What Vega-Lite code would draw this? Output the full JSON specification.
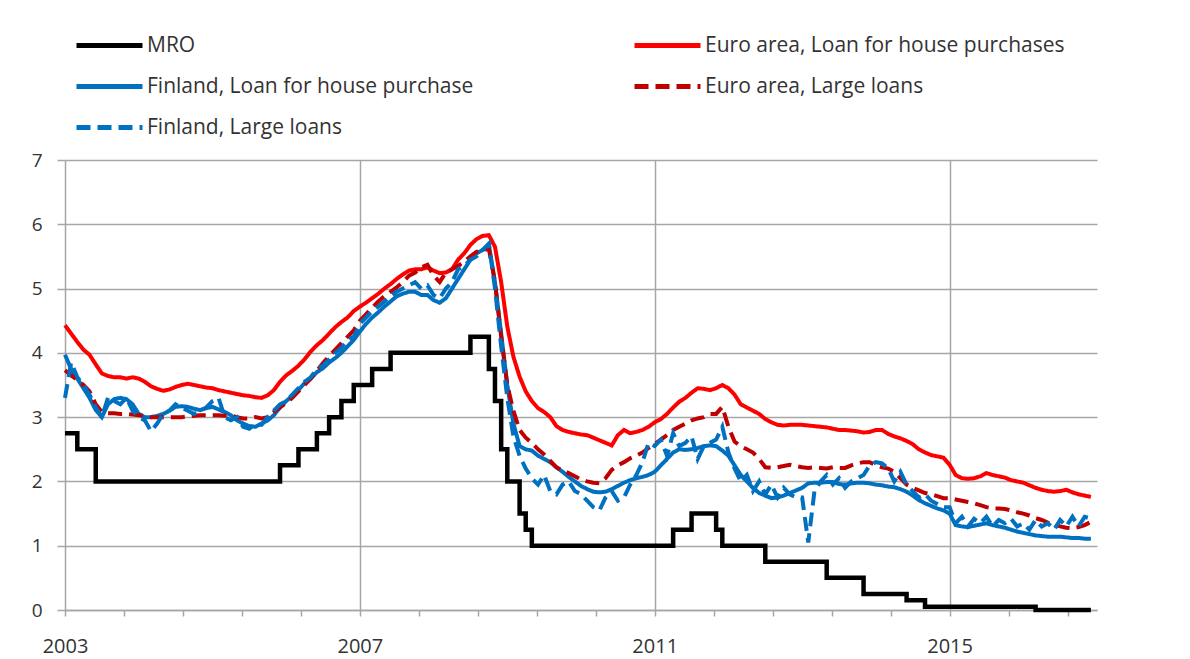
{
"$schema": "https://vega.github.io/schema/vega-lite/v6.json",
"width": 1032, "height": 450,
"autosize": "none",
"padding": {"left": 65, "top": 160, "right": 93, "bottom": 49},
"background": "white",
"config": {"view": {"stroke": null}, "font": "Open Sans"},
"data": {"values": [
{"t":2003.000,"m":2.75,"ea":4.43,"fi":3.97,"eal":3.73,"fil":3.3},
{"t":2003.083,"m":2.75,"ea":4.3,"fi":3.75,"eal":3.65,"fil":3.85},
{"t":2003.167,"m":2.5,"ea":4.17,"fi":3.6,"eal":3.58,"fil":3.62},
{"t":2003.250,"m":2.5,"ea":4.05,"fi":3.45,"eal":3.5,"fil":3.5},
{"t":2003.333,"m":2.5,"ea":3.97,"fi":3.3,"eal":3.4,"fil":3.35},
{"t":2003.417,"m":2.0,"ea":3.82,"fi":3.11,"eal":3.2,"fil":3.15},
{"t":2003.500,"m":2.0,"ea":3.68,"fi":3.0,"eal":3.08,"fil":3.0},
{"t":2003.583,"m":2.0,"ea":3.64,"fi":3.2,"eal":3.06,"fil":3.3},
{"t":2003.667,"m":2.0,"ea":3.62,"fi":3.28,"eal":3.06,"fil":3.25},
{"t":2003.750,"m":2.0,"ea":3.62,"fi":3.3,"eal":3.05,"fil":3.2},
{"t":2003.833,"m":2.0,"ea":3.6,"fi":3.28,"eal":3.05,"fil":3.3},
{"t":2003.917,"m":2.0,"ea":3.62,"fi":3.2,"eal":3.04,"fil":3.1},
{"t":2004.000,"m":2.0,"ea":3.6,"fi":3.05,"eal":3.03,"fil":3.0},
{"t":2004.083,"m":2.0,"ea":3.55,"fi":3.0,"eal":3.02,"fil":2.95},
{"t":2004.167,"m":2.0,"ea":3.48,"fi":3.0,"eal":3.0,"fil":2.78},
{"t":2004.250,"m":2.0,"ea":3.44,"fi":3.02,"eal":3.0,"fil":2.9},
{"t":2004.333,"m":2.0,"ea":3.41,"fi":3.05,"eal":3.0,"fil":3.05},
{"t":2004.417,"m":2.0,"ea":3.43,"fi":3.1,"eal":3.0,"fil":3.1},
{"t":2004.500,"m":2.0,"ea":3.47,"fi":3.16,"eal":3.0,"fil":3.2},
{"t":2004.583,"m":2.0,"ea":3.5,"fi":3.17,"eal":3.0,"fil":3.15},
{"t":2004.667,"m":2.0,"ea":3.52,"fi":3.16,"eal":3.01,"fil":3.1},
{"t":2004.750,"m":2.0,"ea":3.5,"fi":3.13,"eal":3.02,"fil":3.05},
{"t":2004.833,"m":2.0,"ea":3.48,"fi":3.11,"eal":3.03,"fil":3.1},
{"t":2004.917,"m":2.0,"ea":3.46,"fi":3.14,"eal":3.03,"fil":3.15},
{"t":2005.000,"m":2.0,"ea":3.45,"fi":3.16,"eal":3.03,"fil":3.25},
{"t":2005.083,"m":2.0,"ea":3.42,"fi":3.12,"eal":3.03,"fil":3.3},
{"t":2005.167,"m":2.0,"ea":3.4,"fi":3.08,"eal":3.02,"fil":3.0},
{"t":2005.250,"m":2.0,"ea":3.38,"fi":3.03,"eal":3.03,"fil":2.95},
{"t":2005.333,"m":2.0,"ea":3.36,"fi":2.95,"eal":3.0,"fil":3.0},
{"t":2005.417,"m":2.0,"ea":3.34,"fi":2.9,"eal":2.98,"fil":2.85},
{"t":2005.500,"m":2.0,"ea":3.33,"fi":2.86,"eal":2.98,"fil":2.82},
{"t":2005.583,"m":2.0,"ea":3.31,"fi":2.85,"eal":3.0,"fil":2.9},
{"t":2005.667,"m":2.0,"ea":3.3,"fi":2.9,"eal":2.98,"fil":2.88},
{"t":2005.750,"m":2.0,"ea":3.34,"fi":2.95,"eal":3.0,"fil":3.0},
{"t":2005.833,"m":2.0,"ea":3.42,"fi":3.03,"eal":3.08,"fil":3.1},
{"t":2005.917,"m":2.25,"ea":3.55,"fi":3.15,"eal":3.15,"fil":3.2},
{"t":2006.000,"m":2.25,"ea":3.65,"fi":3.25,"eal":3.22,"fil":3.25},
{"t":2006.083,"m":2.25,"ea":3.72,"fi":3.33,"eal":3.3,"fil":3.35},
{"t":2006.167,"m":2.5,"ea":3.8,"fi":3.42,"eal":3.4,"fil":3.45},
{"t":2006.250,"m":2.5,"ea":3.9,"fi":3.53,"eal":3.5,"fil":3.55},
{"t":2006.333,"m":2.5,"ea":4.02,"fi":3.6,"eal":3.6,"fil":3.62},
{"t":2006.417,"m":2.75,"ea":4.12,"fi":3.7,"eal":3.72,"fil":3.75},
{"t":2006.500,"m":2.75,"ea":4.2,"fi":3.76,"eal":3.84,"fil":3.8},
{"t":2006.583,"m":3.0,"ea":4.3,"fi":3.85,"eal":3.95,"fil":3.9},
{"t":2006.667,"m":3.0,"ea":4.4,"fi":3.92,"eal":4.05,"fil":4.0},
{"t":2006.750,"m":3.25,"ea":4.48,"fi":4.0,"eal":4.15,"fil":4.08},
{"t":2006.833,"m":3.25,"ea":4.55,"fi":4.1,"eal":4.25,"fil":4.2},
{"t":2006.917,"m":3.5,"ea":4.65,"fi":4.2,"eal":4.35,"fil":4.25},
{"t":2007.000,"m":3.5,"ea":4.72,"fi":4.33,"eal":4.5,"fil":4.45},
{"t":2007.083,"m":3.5,"ea":4.78,"fi":4.45,"eal":4.6,"fil":4.55},
{"t":2007.167,"m":3.75,"ea":4.85,"fi":4.55,"eal":4.7,"fil":4.65},
{"t":2007.250,"m":3.75,"ea":4.92,"fi":4.63,"eal":4.8,"fil":4.72},
{"t":2007.333,"m":3.75,"ea":5.0,"fi":4.72,"eal":4.88,"fil":4.8},
{"t":2007.417,"m":4.0,"ea":5.07,"fi":4.8,"eal":4.95,"fil":4.88},
{"t":2007.500,"m":4.0,"ea":5.15,"fi":4.88,"eal":5.02,"fil":4.95},
{"t":2007.583,"m":4.0,"ea":5.22,"fi":4.92,"eal":5.1,"fil":5.0},
{"t":2007.667,"m":4.0,"ea":5.28,"fi":4.95,"eal":5.2,"fil":5.05},
{"t":2007.750,"m":4.0,"ea":5.3,"fi":4.95,"eal":5.25,"fil":5.1},
{"t":2007.833,"m":4.0,"ea":5.3,"fi":4.9,"eal":5.33,"fil":5.0},
{"t":2007.917,"m":4.0,"ea":5.33,"fi":4.9,"eal":5.37,"fil":5.05},
{"t":2008.000,"m":4.0,"ea":5.28,"fi":4.82,"eal":5.2,"fil":4.9},
{"t":2008.083,"m":4.0,"ea":5.24,"fi":4.78,"eal":5.1,"fil":4.85},
{"t":2008.167,"m":4.0,"ea":5.25,"fi":4.85,"eal":5.25,"fil":5.0},
{"t":2008.250,"m":4.0,"ea":5.3,"fi":5.0,"eal":5.3,"fil":5.1},
{"t":2008.333,"m":4.0,"ea":5.45,"fi":5.15,"eal":5.35,"fil":5.3},
{"t":2008.417,"m":4.0,"ea":5.55,"fi":5.3,"eal":5.42,"fil":5.35},
{"t":2008.500,"m":4.25,"ea":5.68,"fi":5.45,"eal":5.5,"fil":5.45},
{"t":2008.583,"m":4.25,"ea":5.77,"fi":5.55,"eal":5.57,"fil":5.5},
{"t":2008.667,"m":4.25,"ea":5.82,"fi":5.6,"eal":5.6,"fil":5.6},
{"t":2008.750,"m":3.75,"ea":5.83,"fi":5.68,"eal":5.62,"fil":5.7},
{"t":2008.833,"m":3.25,"ea":5.65,"fi":5.1,"eal":5.1,"fil":5.0},
{"t":2008.917,"m":2.5,"ea":5.1,"fi":4.3,"eal":4.25,"fil":4.1},
{"t":2009.000,"m":2.0,"ea":4.41,"fi":3.5,"eal":3.5,"fil":3.3},
{"t":2009.083,"m":2.0,"ea":3.94,"fi":2.9,"eal":3.1,"fil":2.7},
{"t":2009.167,"m":1.5,"ea":3.63,"fi":2.55,"eal":2.8,"fil":2.4},
{"t":2009.250,"m":1.25,"ea":3.4,"fi":2.5,"eal":2.68,"fil":2.2},
{"t":2009.333,"m":1.0,"ea":3.25,"fi":2.48,"eal":2.6,"fil":2.05},
{"t":2009.417,"m":1.0,"ea":3.14,"fi":2.4,"eal":2.5,"fil":1.95},
{"t":2009.500,"m":1.0,"ea":3.08,"fi":2.35,"eal":2.42,"fil":2.1},
{"t":2009.583,"m":1.0,"ea":3.0,"fi":2.3,"eal":2.32,"fil":1.85},
{"t":2009.667,"m":1.0,"ea":2.86,"fi":2.22,"eal":2.22,"fil":1.8},
{"t":2009.750,"m":1.0,"ea":2.8,"fi":2.15,"eal":2.17,"fil":1.95},
{"t":2009.833,"m":1.0,"ea":2.77,"fi":2.07,"eal":2.13,"fil":2.0},
{"t":2009.917,"m":1.0,"ea":2.75,"fi":2.0,"eal":2.08,"fil":1.85},
{"t":2010.000,"m":1.0,"ea":2.73,"fi":1.93,"eal":2.03,"fil":1.8},
{"t":2010.083,"m":1.0,"ea":2.72,"fi":1.88,"eal":2.0,"fil":1.7},
{"t":2010.167,"m":1.0,"ea":2.68,"fi":1.84,"eal":1.98,"fil":1.6},
{"t":2010.250,"m":1.0,"ea":2.64,"fi":1.83,"eal":1.97,"fil":1.55},
{"t":2010.333,"m":1.0,"ea":2.6,"fi":1.84,"eal":2.05,"fil":1.75},
{"t":2010.417,"m":1.0,"ea":2.56,"fi":1.88,"eal":2.18,"fil":1.85},
{"t":2010.500,"m":1.0,"ea":2.72,"fi":1.93,"eal":2.25,"fil":1.7},
{"t":2010.583,"m":1.0,"ea":2.8,"fi":1.98,"eal":2.3,"fil":1.75},
{"t":2010.667,"m":1.0,"ea":2.75,"fi":2.02,"eal":2.36,"fil":1.95},
{"t":2010.750,"m":1.0,"ea":2.77,"fi":2.05,"eal":2.4,"fil":2.1},
{"t":2010.833,"m":1.0,"ea":2.8,"fi":2.07,"eal":2.45,"fil":2.3},
{"t":2010.917,"m":1.0,"ea":2.85,"fi":2.1,"eal":2.52,"fil":2.6},
{"t":2011.000,"m":1.0,"ea":2.92,"fi":2.15,"eal":2.58,"fil":2.55},
{"t":2011.083,"m":1.0,"ea":2.97,"fi":2.25,"eal":2.65,"fil":2.65},
{"t":2011.167,"m":1.0,"ea":3.05,"fi":2.35,"eal":2.72,"fil":2.4},
{"t":2011.250,"m":1.25,"ea":3.15,"fi":2.45,"eal":2.8,"fil":2.75},
{"t":2011.333,"m":1.25,"ea":3.24,"fi":2.5,"eal":2.85,"fil":2.55},
{"t":2011.417,"m":1.25,"ea":3.3,"fi":2.49,"eal":2.9,"fil":2.6},
{"t":2011.500,"m":1.5,"ea":3.38,"fi":2.5,"eal":2.95,"fil":2.7},
{"t":2011.583,"m":1.5,"ea":3.45,"fi":2.52,"eal":2.98,"fil":2.35},
{"t":2011.667,"m":1.5,"ea":3.44,"fi":2.55,"eal":3.0,"fil":2.55},
{"t":2011.750,"m":1.5,"ea":3.42,"fi":2.56,"eal":3.05,"fil":2.6},
{"t":2011.833,"m":1.25,"ea":3.45,"fi":2.55,"eal":3.05,"fil":2.65},
{"t":2011.917,"m":1.0,"ea":3.5,"fi":2.48,"eal":3.16,"fil":2.85},
{"t":2012.000,"m":1.0,"ea":3.45,"fi":2.4,"eal":2.85,"fil":2.45},
{"t":2012.083,"m":1.0,"ea":3.35,"fi":2.25,"eal":2.62,"fil":2.2},
{"t":2012.167,"m":1.0,"ea":3.2,"fi":2.1,"eal":2.55,"fil":2.0},
{"t":2012.250,"m":1.0,"ea":3.15,"fi":2.0,"eal":2.5,"fil":2.1},
{"t":2012.333,"m":1.0,"ea":3.1,"fi":1.9,"eal":2.45,"fil":1.85},
{"t":2012.417,"m":1.0,"ea":3.05,"fi":1.82,"eal":2.35,"fil":2.0},
{"t":2012.500,"m":0.75,"ea":2.97,"fi":1.78,"eal":2.22,"fil":1.8},
{"t":2012.583,"m":0.75,"ea":2.92,"fi":1.74,"eal":2.21,"fil":1.95},
{"t":2012.667,"m":0.75,"ea":2.88,"fi":1.75,"eal":2.22,"fil":1.75},
{"t":2012.750,"m":0.75,"ea":2.87,"fi":1.78,"eal":2.24,"fil":1.9},
{"t":2012.833,"m":0.75,"ea":2.88,"fi":1.82,"eal":2.26,"fil":1.8},
{"t":2012.917,"m":0.75,"ea":2.88,"fi":1.86,"eal":2.24,"fil":1.75},
{"t":2013.000,"m":0.75,"ea":2.88,"fi":1.9,"eal":2.22,"fil":1.75},
{"t":2013.083,"m":0.75,"ea":2.87,"fi":1.97,"eal":2.21,"fil":1.05},
{"t":2013.167,"m":0.75,"ea":2.86,"fi":1.98,"eal":2.22,"fil":1.85},
{"t":2013.250,"m":0.75,"ea":2.85,"fi":1.98,"eal":2.21,"fil":2.0},
{"t":2013.333,"m":0.5,"ea":2.84,"fi":1.99,"eal":2.2,"fil":2.1},
{"t":2013.417,"m":0.5,"ea":2.82,"fi":1.99,"eal":2.22,"fil":1.95},
{"t":2013.500,"m":0.5,"ea":2.8,"fi":1.96,"eal":2.21,"fil":2.05},
{"t":2013.583,"m":0.5,"ea":2.8,"fi":1.95,"eal":2.21,"fil":1.9},
{"t":2013.667,"m":0.5,"ea":2.79,"fi":1.97,"eal":2.25,"fil":2.0},
{"t":2013.750,"m":0.5,"ea":2.78,"fi":1.98,"eal":2.28,"fil":2.05},
{"t":2013.833,"m":0.25,"ea":2.76,"fi":1.98,"eal":2.3,"fil":2.1},
{"t":2013.917,"m":0.25,"ea":2.77,"fi":1.97,"eal":2.3,"fil":2.25},
{"t":2014.000,"m":0.25,"ea":2.8,"fi":1.95,"eal":2.25,"fil":2.3},
{"t":2014.083,"m":0.25,"ea":2.8,"fi":1.94,"eal":2.22,"fil":2.28},
{"t":2014.167,"m":0.25,"ea":2.74,"fi":1.92,"eal":2.2,"fil":2.2},
{"t":2014.250,"m":0.25,"ea":2.7,"fi":1.91,"eal":2.15,"fil":2.0},
{"t":2014.333,"m":0.25,"ea":2.67,"fi":1.88,"eal":2.05,"fil":2.15},
{"t":2014.417,"m":0.15,"ea":2.63,"fi":1.84,"eal":1.95,"fil":1.95},
{"t":2014.500,"m":0.15,"ea":2.58,"fi":1.78,"eal":1.9,"fil":1.85},
{"t":2014.583,"m":0.15,"ea":2.5,"fi":1.71,"eal":1.86,"fil":1.75},
{"t":2014.667,"m":0.05,"ea":2.45,"fi":1.66,"eal":1.82,"fil":1.8},
{"t":2014.750,"m":0.05,"ea":2.41,"fi":1.62,"eal":1.8,"fil":1.7},
{"t":2014.833,"m":0.05,"ea":2.39,"fi":1.58,"eal":1.77,"fil":1.65},
{"t":2014.917,"m":0.05,"ea":2.37,"fi":1.55,"eal":1.74,"fil":1.6},
{"t":2015.000,"m":0.05,"ea":2.26,"fi":1.5,"eal":1.74,"fil":1.6},
{"t":2015.083,"m":0.05,"ea":2.1,"fi":1.32,"eal":1.72,"fil":1.35},
{"t":2015.167,"m":0.05,"ea":2.05,"fi":1.3,"eal":1.7,"fil":1.45},
{"t":2015.250,"m":0.05,"ea":2.04,"fi":1.29,"eal":1.68,"fil":1.3},
{"t":2015.333,"m":0.05,"ea":2.05,"fi":1.31,"eal":1.66,"fil":1.42},
{"t":2015.417,"m":0.05,"ea":2.08,"fi":1.33,"eal":1.63,"fil":1.35},
{"t":2015.500,"m":0.05,"ea":2.13,"fi":1.35,"eal":1.6,"fil":1.45},
{"t":2015.583,"m":0.05,"ea":2.1,"fi":1.32,"eal":1.58,"fil":1.3},
{"t":2015.667,"m":0.05,"ea":2.08,"fi":1.3,"eal":1.58,"fil":1.4},
{"t":2015.750,"m":0.05,"ea":2.06,"fi":1.28,"eal":1.57,"fil":1.35},
{"t":2015.833,"m":0.05,"ea":2.02,"fi":1.25,"eal":1.55,"fil":1.42},
{"t":2015.917,"m":0.05,"ea":2.0,"fi":1.22,"eal":1.52,"fil":1.3},
{"t":2016.000,"m":0.05,"ea":1.98,"fi":1.2,"eal":1.5,"fil":1.35},
{"t":2016.083,"m":0.05,"ea":1.94,"fi":1.18,"eal":1.47,"fil":1.25},
{"t":2016.167,"m":0.0,"ea":1.9,"fi":1.16,"eal":1.43,"fil":1.4},
{"t":2016.250,"m":0.0,"ea":1.87,"fi":1.15,"eal":1.4,"fil":1.3},
{"t":2016.333,"m":0.0,"ea":1.85,"fi":1.14,"eal":1.36,"fil":1.35},
{"t":2016.417,"m":0.0,"ea":1.84,"fi":1.14,"eal":1.33,"fil":1.25},
{"t":2016.500,"m":0.0,"ea":1.85,"fi":1.14,"eal":1.3,"fil":1.4},
{"t":2016.583,"m":0.0,"ea":1.87,"fi":1.13,"eal":1.28,"fil":1.3},
{"t":2016.667,"m":0.0,"ea":1.83,"fi":1.12,"eal":1.27,"fil":1.45},
{"t":2016.750,"m":0.0,"ea":1.8,"fi":1.12,"eal":1.29,"fil":1.3},
{"t":2016.833,"m":0.0,"ea":1.78,"fi":1.11,"eal":1.32,"fil":1.45},
{"t":2016.917,"m":0.0,"ea":1.76,"fi":1.11,"eal":1.37,"fil":1.42}
]},
"encoding": {
  "x": {"field": "t", "type": "quantitative",
    "scale": {"domain": [2003, 2017], "nice": false, "zero": false},
    "axis": {"title": null,
      "values": [2003, 2003.8, 2004.6, 2005.4, 2006.2, 2007, 2007.8, 2008.6, 2009.4, 2010.2, 2011, 2011.8, 2012.6, 2013.4, 2014.2, 2015, 2015.8, 2016.6],
      "tickCount": 60, "tickMinStep": 0.1,
      "format": "d",
      "labelExpr": "datum.value % 4 == 3 ? datum.label : ''",
      "grid": true, "gridColor": "#a6a6a6", "gridWidth": 1.5,
      "gridOpacity": {"condition": {"test": "datum.value % 4 == 3", "value": 1}, "value": 0},
      "domainColor": "#a6a6a6", "domainWidth": 1.5,
      "tickColor": "#a6a6a6", "tickWidth": 1.5, "tickSize": 6,
      "labelFontSize": 20, "labelColor": "#333333", "labelPadding": 20,
      "labelFlush": false, "labelOverlap": false, "labelBound": false}},
  "y": {"field": "value", "type": "quantitative",
    "scale": {"domain": [0, 7], "nice": false},
    "axis": {"title": null, "values": [0, 1, 2, 3, 4, 5, 6, 7], "format": "d",
      "grid": true, "gridColor": "#a6a6a6", "gridWidth": 1.5,
      "domain": false, "tickColor": "#a6a6a6", "tickWidth": 1.5, "tickSize": 8,
      "labelFontSize": 19, "labelColor": "#333333", "labelPadding": 15}},
  "color": {"field": "key", "type": "nominal",
    "scale": {"domain": ["m", "fi", "fil", "ea", "eal"], "range": ["#000000", "#0070c0", "#0070c0", "#ff0000", "#c00000"]},
    "legend": {"title": null, "orient": "none", "legendX": 9, "legendY": -135, "columns": 2,
      "symbolType": "stroke", "symbolSize": 4356, "symbolStrokeWidth": 5, "clipHeight": 41,
      "labelFontSize": 21, "labelColor": "#333333", "labelOffset": 2, "labelLimit": 600,
      "rowPadding": 0, "columnPadding": 158, "padding": 0,
      "labelExpr": "datum.label == 'm' ? 'MRO' : datum.label == 'ea' ? 'Euro area, Loan for house purchases' : datum.label == 'fi' ? 'Finland, Loan for house purchase' : datum.label == 'eal' ? 'Euro area, Large loans' : 'Finland, Large loans'"}},
  "strokeDash": {"field": "key", "type": "nominal",
    "scale": {"domain": ["m", "fi", "fil", "ea", "eal"], "range": [[1, 0], [1, 0], [14, 7], [1, 0], [14, 7]]},
    "legend": {"title": null, "orient": "none", "legendX": 9, "legendY": -135, "columns": 2,
      "symbolType": "stroke", "symbolSize": 4356, "symbolStrokeWidth": 5, "clipHeight": 41,
      "labelFontSize": 21, "labelColor": "#333333", "labelOffset": 2, "labelLimit": 600,
      "rowPadding": 0, "columnPadding": 158, "padding": 0,
      "labelExpr": "datum.label == 'm' ? 'MRO' : datum.label == 'ea' ? 'Euro area, Loan for house purchases' : datum.label == 'fi' ? 'Finland, Loan for house purchase' : datum.label == 'eal' ? 'Euro area, Large loans' : 'Finland, Large loans'"}}
},
"layer": [
  {"transform": [{"fold": ["m"], "as": ["key", "value"]}],
   "mark": {"type": "line", "interpolate": "step-after", "strokeWidth": 4.5}},
  {"transform": [{"fold": ["ea", "fi", "eal", "fil"], "as": ["key", "value"]}],
   "mark": {"type": "line", "strokeWidth": 4}}
]
}
